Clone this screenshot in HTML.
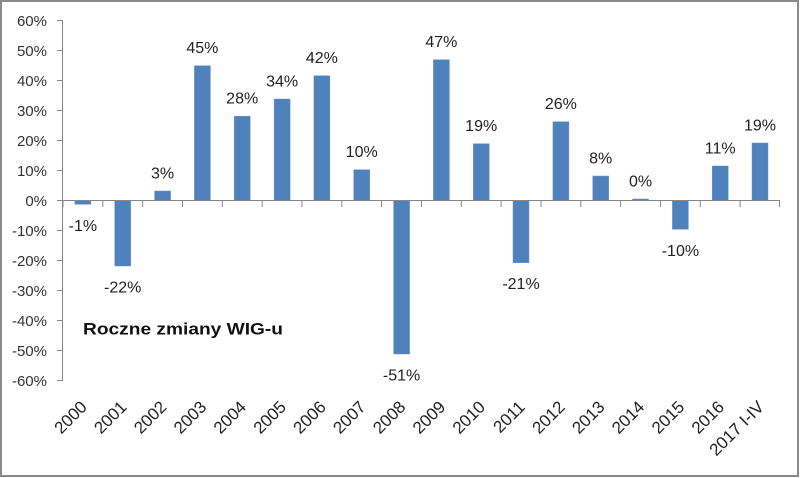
<!DOCTYPE html>
<html><head><meta charset="utf-8"><style>
html,body{margin:0;padding:0;background:#fff;}
svg{display:block;}
text{font-family:"Liberation Sans",sans-serif;}
</style></head><body>
<svg width="800" height="478" viewBox="0 0 800 478" xmlns="http://www.w3.org/2000/svg">
<rect x="0" y="0" width="800" height="478" fill="#fff"/>
<rect x="1" y="1" width="797" height="475" fill="none" stroke="#8a8a8a" stroke-width="2"/>
<g stroke="#868686" stroke-width="1" fill="none">
<line x1="62.5" y1="20" x2="62.5" y2="381"/>
<line x1="57" y1="20.5" x2="63" y2="20.5"/>
<line x1="57" y1="50.5" x2="63" y2="50.5"/>
<line x1="57" y1="80.5" x2="63" y2="80.5"/>
<line x1="57" y1="110.5" x2="63" y2="110.5"/>
<line x1="57" y1="140.5" x2="63" y2="140.5"/>
<line x1="57" y1="170.5" x2="63" y2="170.5"/>
<line x1="57" y1="200.5" x2="63" y2="200.5"/>
<line x1="57" y1="230.5" x2="63" y2="230.5"/>
<line x1="57" y1="260.5" x2="63" y2="260.5"/>
<line x1="57" y1="290.5" x2="63" y2="290.5"/>
<line x1="57" y1="320.5" x2="63" y2="320.5"/>
<line x1="57" y1="350.5" x2="63" y2="350.5"/>
<line x1="57" y1="380.5" x2="63" y2="380.5"/>
</g>
<g font-size="15" fill="#333" text-anchor="end">
<text x="47" y="26">60%</text>
<text x="47" y="56">50%</text>
<text x="47" y="86">40%</text>
<text x="47" y="116">30%</text>
<text x="47" y="146">20%</text>
<text x="47" y="176">10%</text>
<text x="47" y="206">0%</text>
<text x="47" y="236">-10%</text>
<text x="47" y="266">-20%</text>
<text x="47" y="296">-30%</text>
<text x="47" y="326">-40%</text>
<text x="47" y="356">-50%</text>
<text x="47" y="386">-60%</text>
</g>
<g fill="#4f81bd" stroke="#6f97c8" stroke-width="0.5">
<rect x="74.9" y="200.4" width="16" height="3.9"/>
<rect x="114.7" y="200.4" width="16" height="65.6"/>
<rect x="154.6" y="191" width="16" height="9.4"/>
<rect x="194.4" y="65.7" width="16" height="134.7"/>
<rect x="234.2" y="116.2" width="16" height="84.2"/>
<rect x="274.1" y="99" width="16" height="101.4"/>
<rect x="313.9" y="75.7" width="16" height="124.7"/>
<rect x="353.7" y="169.7" width="16" height="30.7"/>
<rect x="393.6" y="200.4" width="16" height="153.6"/>
<rect x="433.4" y="59.7" width="16" height="140.7"/>
<rect x="473.2" y="143.7" width="16" height="56.7"/>
<rect x="513.0" y="200.4" width="16" height="62.3"/>
<rect x="552.9" y="121.7" width="16" height="78.7"/>
<rect x="592.7" y="176" width="16" height="24.4"/>
<rect x="632.5" y="199" width="16" height="1.4"/>
<rect x="672.4" y="200.4" width="16" height="28.9"/>
<rect x="712.2" y="166" width="16" height="34.4"/>
<rect x="752.0" y="143" width="16" height="57.4"/>
</g>
<g stroke="#868686" stroke-width="1" fill="none">
<line x1="63" y1="200.5" x2="780" y2="200.5"/>
<line x1="63" y1="200" x2="63" y2="207"/>
<line x1="102.8" y1="200" x2="102.8" y2="207"/>
<line x1="142.7" y1="200" x2="142.7" y2="207"/>
<line x1="182.5" y1="200" x2="182.5" y2="207"/>
<line x1="222.3" y1="200" x2="222.3" y2="207"/>
<line x1="262.2" y1="200" x2="262.2" y2="207"/>
<line x1="302" y1="200" x2="302" y2="207"/>
<line x1="341.8" y1="200" x2="341.8" y2="207"/>
<line x1="381.6" y1="200" x2="381.6" y2="207"/>
<line x1="421.5" y1="200" x2="421.5" y2="207"/>
<line x1="461.3" y1="200" x2="461.3" y2="207"/>
<line x1="501.1" y1="200" x2="501.1" y2="207"/>
<line x1="541" y1="200" x2="541" y2="207"/>
<line x1="580.8" y1="200" x2="580.8" y2="207"/>
<line x1="620.6" y1="200" x2="620.6" y2="207"/>
<line x1="660.5" y1="200" x2="660.5" y2="207"/>
<line x1="700.3" y1="200" x2="700.3" y2="207"/>
<line x1="740.1" y1="200" x2="740.1" y2="207"/>
<line x1="779.5" y1="200" x2="779.5" y2="207"/>
</g>
<g font-size="16" fill="#222" text-anchor="middle">
<text x="82.9" y="231">-1%</text>
<text x="122.7" y="292.5">-22%</text>
<text x="162.6" y="178.5">3%</text>
<text x="202.4" y="53.2">45%</text>
<text x="242.2" y="103.7">28%</text>
<text x="282.1" y="86.5">34%</text>
<text x="321.9" y="63.2">42%</text>
<text x="361.7" y="157.2">10%</text>
<text x="401.6" y="380.5">-51%</text>
<text x="441.4" y="47.2">47%</text>
<text x="481.2" y="131.2">19%</text>
<text x="521" y="289.2">-21%</text>
<text x="560.9" y="109.2">26%</text>
<text x="600.7" y="163.5">8%</text>
<text x="640.5" y="186.5">0%</text>
<text x="680.4" y="255.8">-10%</text>
<text x="720.2" y="153.5">11%</text>
<text x="760" y="130.5">19%</text>
</g>
<g font-size="17" fill="#222" text-anchor="end">
<text transform="translate(88,408) rotate(-45)">2000</text>
<text transform="translate(127.7,408) rotate(-45)">2001</text>
<text transform="translate(167.6,408) rotate(-45)">2002</text>
<text transform="translate(207.4,408) rotate(-45)">2003</text>
<text transform="translate(247.2,408) rotate(-45)">2004</text>
<text transform="translate(287.1,408) rotate(-45)">2005</text>
<text transform="translate(326.9,408) rotate(-45)">2006</text>
<text transform="translate(366.7,408) rotate(-45)">2007</text>
<text transform="translate(406.6,408) rotate(-45)">2008</text>
<text transform="translate(446.4,408) rotate(-45)">2009</text>
<text transform="translate(486.2,408) rotate(-45)">2010</text>
<text transform="translate(526,408) rotate(-45)">2011</text>
<text transform="translate(565.9,408) rotate(-45)">2012</text>
<text transform="translate(605.7,408) rotate(-45)">2013</text>
<text transform="translate(645.5,408) rotate(-45)">2014</text>
<text transform="translate(685.4,408) rotate(-45)">2015</text>
<text transform="translate(725.2,408) rotate(-45)">2016</text>
<text transform="translate(765,408) rotate(-45)">2017 I-IV</text>
</g>
<text x="83" y="334.5" font-size="17" font-weight="bold" fill="#111" textLength="200" lengthAdjust="spacingAndGlyphs">Roczne zmiany WIG-u</text>
</svg>
</body></html>
